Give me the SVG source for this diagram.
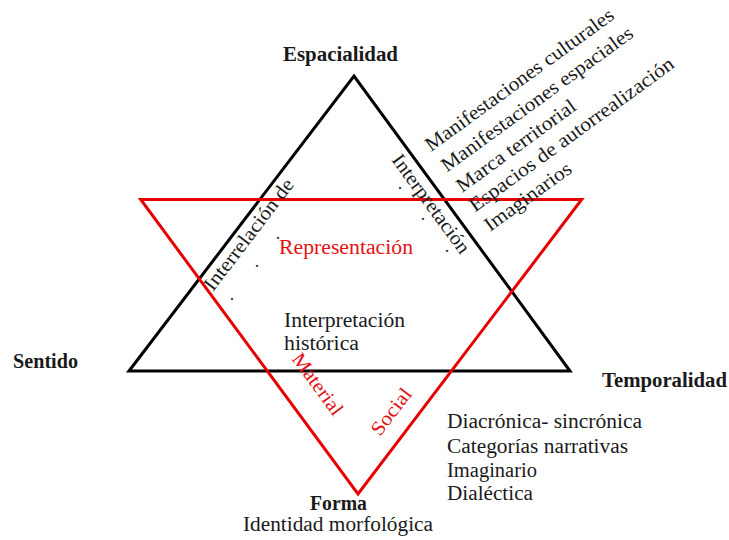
<svg xmlns="http://www.w3.org/2000/svg" width="729" height="540" viewBox="0 0 729 540">
  <style>
    .t { font-family: "Liberation Serif", "Times New Roman", serif; font-size: 20px; fill: #1a1a1a; }
    .b { font-weight: bold; }
    .r { fill: #e31212; }
    .dot { font-family: "Liberation Serif", serif; font-size: 18px; fill: #333; text-anchor: middle; }
    .tri { fill: none; stroke-width: 3; stroke-linejoin: miter; }
  </style>
  <rect width="729" height="540" fill="#ffffff"/>

  <g id="connectors">
    <polygon id="black-triangle" class="tri" stroke="#000000" points="129,371 354,76 570,371"/>
    <polygon id="red-triangle" class="tri" stroke="#e60000" points="140.7,199.5 581.7,199.5 358,494"/>
  </g>

  <g id="node-espacialidad">
    <text class="t b" x="283" y="61" textLength="115" lengthAdjust="spacingAndGlyphs">Espacialidad</text>
  </g>
  <g id="node-sentido">
    <text class="t b" x="13" y="368" textLength="65" lengthAdjust="spacingAndGlyphs">Sentido</text>
  </g>
  <g id="node-temporalidad">
    <text class="t b" x="602" y="387" textLength="125" lengthAdjust="spacingAndGlyphs">Temporalidad</text>
  </g>
  <g id="node-forma">
    <text class="t b" x="310" y="510" textLength="57" lengthAdjust="spacingAndGlyphs">Forma</text>
    <text class="t" x="243" y="531" textLength="190" lengthAdjust="spacingAndGlyphs">Identidad morfológica</text>
  </g>

  <g id="node-center">
    <text class="t r" x="279" y="254" textLength="134" lengthAdjust="spacingAndGlyphs">Representación</text>
    <text class="t" x="284" y="327" textLength="121" lengthAdjust="spacingAndGlyphs">Interpretación</text>
    <text class="t" x="284" y="350" textLength="75" lengthAdjust="spacingAndGlyphs">histórica</text>
  </g>

  <g id="edge-labels">
    <text class="t" transform="translate(213,292) rotate(-52.67)" textLength="135" lengthAdjust="spacingAndGlyphs">Interrelación de</text>
    <text class="t" transform="translate(391,160) rotate(53.8)" textLength="118" lengthAdjust="spacingAndGlyphs">Interpretación</text>
    <text class="t r" transform="translate(291,359) rotate(53.65)" textLength="72" lengthAdjust="spacingAndGlyphs">Material</text>
    <text class="t r" transform="translate(380,437) rotate(-52.56)" textLength="54" lengthAdjust="spacingAndGlyphs">Social</text>
    <text class="dot" x="278" y="239">.</text>
    <text class="dot" x="257" y="267">.</text>
    <text class="dot" x="232" y="300">.</text>
    <text class="dot" x="400" y="189">.</text>
    <text class="dot" x="423" y="220">.</text>
    <text class="dot" x="447" y="252">.</text>
  </g>

  <g id="node-espacialidad-list">
    <text class="t" transform="translate(431,152) rotate(-36)" textLength="228" lengthAdjust="spacingAndGlyphs">Manifestaciones culturales</text>
    <text class="t" transform="translate(447,172.5) rotate(-36)" textLength="232" lengthAdjust="spacingAndGlyphs">Manifestaciones espaciales</text>
    <text class="t" transform="translate(462,193) rotate(-36)" textLength="143" lengthAdjust="spacingAndGlyphs">Marca territorial</text>
    <text class="t" transform="translate(475,212.5) rotate(-36)" textLength="248" lengthAdjust="spacingAndGlyphs">Espacios de autorrealización</text>
    <text class="t" transform="translate(490,232) rotate(-36)" textLength="103" lengthAdjust="spacingAndGlyphs">Imaginarios</text>
  </g>

  <g id="node-temporalidad-list">
    <text class="t" x="447" y="428" textLength="195" lengthAdjust="spacingAndGlyphs">Diacrónica- sincrónica</text>
    <text class="t" x="447" y="453" textLength="181" lengthAdjust="spacingAndGlyphs">Categorías narrativas</text>
    <text class="t" x="447" y="477" textLength="90" lengthAdjust="spacingAndGlyphs">Imaginario</text>
    <text class="t" x="447" y="500" textLength="86" lengthAdjust="spacingAndGlyphs">Dialéctica</text>
  </g>
</svg>
